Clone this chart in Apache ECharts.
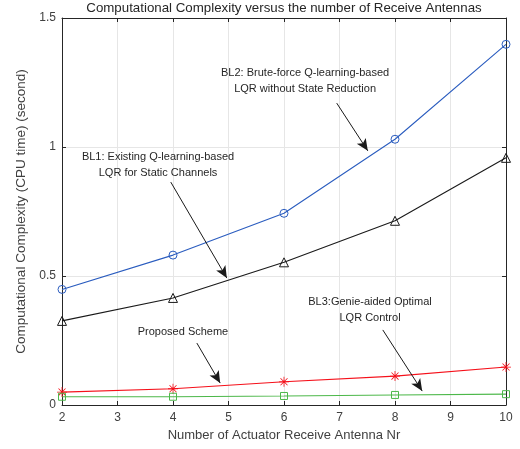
<!DOCTYPE html>
<html><head><meta charset="utf-8">
<script src="https://cdn.jsdelivr.net/npm/echarts@6/dist/echarts.min.js"></script>
<style>html,body{margin:0;padding:0;background:#fff}#c{width:520px;height:449px}</style>
</head><body><div id="c"></div>
<script>
const xValues = [2, 4, 6, 8, 10];
const bl2Values = [0.448, 0.581, 0.743, 1.030, 1.398];
const bl1Values = [0.326, 0.415, 0.553, 0.714, 0.958];
const proposedValues = [0.050, 0.063, 0.090, 0.112, 0.147];
const bl3Values = [0.032, 0.032, 0.035, 0.039, 0.042];
const yTickLabels = {0: '0', 0.5: '0.5', 1: '1', 1.5: '1.5'};

// annotation texts, anchor (data coords) and arrows (data coords)
const notes = [
  {text: 'BL2: Brute-force Q-learning-based\nLQR without State Reduction', at: [6.38, 1.256], from: [6.95, 1.17], to: [7.51, 0.985]},
  {text: 'BL1: Existing Q-learning-based\nLQR for Static Channels', at: [3.73, 0.932], from: [3.96, 0.864], to: [4.97, 0.492]},
  {text: 'Proposed Scheme', at: [4.18, 0.283], from: [4.43, 0.240], to: [4.85, 0.085]},
  {text: 'BL3:Genie-aided Optimal\nLQR Control', at: [7.55, 0.370], from: [7.78, 0.291], to: [8.49, 0.054]}
];

const FONT = 'Liberation Sans, Arial, sans-serif';
const asterisk = 'path://M-0.8,-10L0.8,-10L0.8,10L-0.8,10Z M-10,-0.8L10,-0.8L10,0.8L-10,0.8Z M-6.5,-7.6L7.6,6.5L6.5,7.6L-7.6,-6.5Z M-7.6,6.5L6.5,-7.6L7.6,-6.5L-6.5,7.6Z';

function pts(vals){ return xValues.map((x,i)=>[x, vals[i]]); }

const chart = echarts.init(document.getElementById('c'), null, {renderer:'canvas'});
const gridLine = {show:true, lineStyle:{color:'#e6e6e6', width:1}};
const axisLineC = '#262626';
const labC = '#404040';
const option = {
  animation: false,
  backgroundColor: '#fff',
  grid: {left: 62, right: 14, top: 18, bottom: 44},
  xAxis: [
    {type:'value', min:2, max:10, interval:1, position:'bottom',
     name:'Number of Actuator Receive Antenna Nr', nameLocation:'middle', nameGap:24,
     nameTextStyle:{fontFamily:FONT, fontSize:13, color:labC},
     axisLine:{show:true, onZero:false, lineStyle:{color:axisLineC}},
     axisTick:{show:true, inside:true, length:4, lineStyle:{color:axisLineC}},
     axisLabel:{fontFamily:FONT, fontSize:12, color:labC, margin:7},
     splitLine: gridLine},
    {type:'value', min:2, max:10, interval:1, position:'top',
     axisLine:{show:true, onZero:false, lineStyle:{color:axisLineC}},
     axisTick:{show:true, inside:true, length:4, lineStyle:{color:axisLineC}},
     axisLabel:{show:false}, splitLine:{show:false}}
  ],
  yAxis: [
    {type:'value', min:0, max:1.5, interval:0.5, position:'left',
     name:'Computational Complexity (CPU time) (second)', nameLocation:'middle', nameGap:33,
     nameTextStyle:{fontFamily:FONT, fontSize:13.5, color:labC},
     axisLine:{show:true, onZero:false, lineStyle:{color:axisLineC}},
     axisTick:{show:true, inside:true, length:4, lineStyle:{color:axisLineC}},
     axisLabel:{fontFamily:FONT, fontSize:12, color:labC, margin:6, formatter:v=>yTickLabels[v] ?? ''},
     splitLine: gridLine},
    {type:'value', min:0, max:1.5, interval:0.5, position:'right',
     axisLine:{show:true, onZero:false, lineStyle:{color:axisLineC}},
     axisTick:{show:true, inside:true, length:4, lineStyle:{color:axisLineC}},
     axisLabel:{show:false}, splitLine:{show:false}}
  ],
  series: [
    {name:'BL2', type:'line', data:pts(bl2Values), symbol:'circle', symbolSize:8,
     lineStyle:{color:'#2a5cbf', width:1.1}, itemStyle:{color:'rgba(255,255,255,0)', borderColor:'#2a5cbf', borderWidth:1}},
    {name:'BL1', type:'line', data:pts(bl1Values), symbol:'triangle', symbolSize:9,
     lineStyle:{color:'#1a1a1a', width:1.1}, itemStyle:{color:'rgba(255,255,255,0)', borderColor:'#1a1a1a', borderWidth:1}},
    {name:'Proposed', type:'line', data:pts(proposedValues), symbol:asterisk, symbolSize:10,
     lineStyle:{color:'#f5101a', width:1.1}, itemStyle:{color:'#f5101a'}},
    {name:'BL3', type:'line', data:pts(bl3Values), symbol:'rect', symbolSize:7,
     lineStyle:{color:'#4db84a', width:1.1}, itemStyle:{color:'rgba(255,255,255,0)', borderColor:'#4db84a', borderWidth:1},
     markLine:{silent:true, symbol:['none','arrow'], symbolSize:[8,12], label:{show:false},
       lineStyle:{color:'#1a1a1a', width:1, type:'solid'},
       data: notes.map(n=>[{coord:n.from},{coord:n.to}])}}
  ]
};
chart.setOption(option);
const graphics = notes.map(n=>{
  const p = chart.convertToPixel({xAxisIndex:0, yAxisIndex:0}, n.at);
  return {type:'text', x:p[0], y:p[1], z:100,
    style:{text:n.text, fontFamily:FONT, fontSize:11, fill:'#262626', align:'center', verticalAlign:'middle', lineHeight:16}};
});
// title centred over the plot area
const l = chart.convertToPixel({xAxisIndex:0}, 2), r = chart.convertToPixel({xAxisIndex:0}, 10);
graphics.push({type:'text', x:(l+r)/2, y:8, z:100,
  style:{text:'Computational Complexity versus the number of Receive Antennas', fontFamily:FONT, fontSize:13.3,
    fill:'#262626', align:'center', verticalAlign:'middle'}});
chart.setOption({graphic: graphics});
</script></body></html>
